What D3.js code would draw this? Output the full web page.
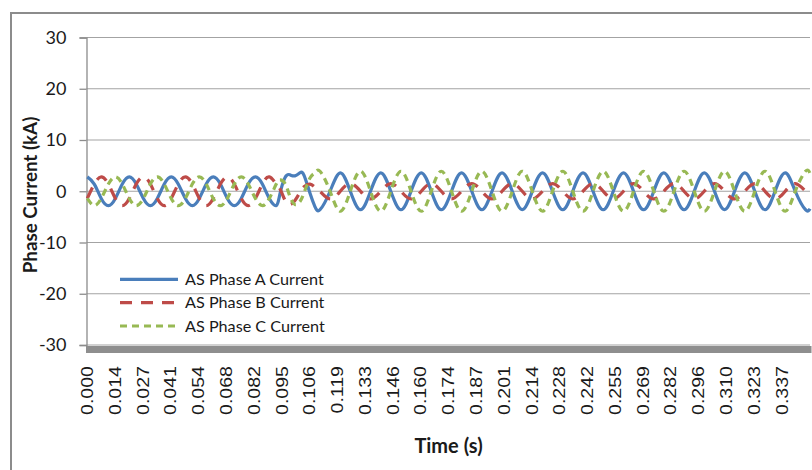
<!DOCTYPE html>
<html><head><meta charset="utf-8">
<script src="https://cdn.jsdelivr.net/npm/d3@7"></script>
<style>body{margin:0;background:#fff;} svg{display:block}</style>
</head><body><svg id="c" width="812" height="470"></svg>
<script>
const tickLabels = ["0.000","0.014","0.027","0.041","0.054","0.068","0.082","0.095","0.106","0.119","0.133","0.146","0.160","0.174","0.187","0.201","0.214","0.228","0.242","0.255","0.269","0.282","0.296","0.310","0.323","0.337"];
const yTicks = [-30,-20,-10,0,10,20,30];
const seriesNames = ["AS Phase A Current","AS Phase B Current","AS Phase C Current"];

const time = [
0.0000,0.0034,0.0068,0.0103,0.0137,0.0171,0.0205,0.0239,0.0274,0.0308,0.0342,0.0376,0.0410,0.0444,0.0479,0.0513,0.0547,0.0581,0.0615,0.0650,0.0684,0.0718,0.0752,0.0786,0.0821,0.0855,0.0889,0.0923,
0.0941,0.0963,0.0982,0.1002,0.1022,0.1038,0.1062,0.1086,
0.1111,0.1160,0.1210,0.1259,0.1309,0.1358,0.1408,0.1457,0.1507,0.1556,0.1606,0.1655,0.1704,0.1754,0.1803,0.1853,0.1902,0.1952,0.2001,0.2051,0.2100,0.2149,0.2199,0.2248,0.2298,0.2347,0.2397,0.2446,0.2496,0.2545,0.2595,0.2644,0.2693,0.2743,0.2792,0.2842,0.2891,0.2941,0.2990,0.3040,0.3089,0.3138,0.3188,0.3237,0.3287,0.3336,0.3386,0.3435,0.3485,0.3507];

const phaseA = [
2.8,1.4,-1.4,-2.8,-1.4,1.4, 2.8,1.4,-1.4,-2.8,-1.4,1.4, 2.8,1.4,-1.4,-2.8,-1.4,1.4, 2.8,1.4,-1.4,-2.8,-1.4,1.4, 2.8,1.4,-1.4,-2.8,
-0.5,2.7,3.2,3.0,3.6,3.1,-0.4,-3.0,
-3.6,0,3.6,0, -3.6,0,3.6,0, -3.6,0,3.6,0, -3.6,0,3.6,0, -3.6,0,3.6,0, -3.6,0,3.6,0,
-3.6,0,3.6,0, -3.6,0,3.6,0, -3.6,0,3.6,0, -3.6,0,3.6,0, -3.6,0,3.6,0, -3.6,0,3.6,0, -3.6,-3.4];

const phaseB = [
-1.4,1.4,2.8,1.4,-1.4,-2.8, -1.4,1.4,2.8,1.4,-1.4,-2.8, -1.4,1.4,2.8,1.4,-1.4,-2.8, -1.4,1.4,2.8,1.4,-1.4,-2.8, -1.4,1.4,2.8,1.4,
0.5,-1.8,-2.6,-1.8,-0.2,0.9,1.4,0.8,
0,-1.5,0,1.5, 0,-1.5,0,1.5, 0,-1.5,0,1.5, 0,-1.5,0,1.5, 0,-1.5,0,1.5, 0,-1.5,0,1.5,
0,-1.5,0,1.5, 0,-1.5,0,1.5, 0,-1.5,0,1.5, 0,-1.5,0,1.5, 0,-1.5,0,1.5, 0,-1.5,0,1.5, 0,-0.7];

const phaseC = [
-1.4,-2.8,-1.4,1.4,2.8,1.4, -1.4,-2.8,-1.4,1.4,2.8,1.4, -1.4,-2.8,-1.4,1.4,2.8,1.4, -1.4,-2.8,-1.4,1.4,2.8,1.4, -1.4,-2.8,-1.4,1.4,
2.2,1.5,-1.0,-2.6,-2.0,-0.3,2.6,3.6,
3.9,0,-3.9,0, 3.9,0,-3.9,0, 3.9,0,-3.9,0, 3.9,0,-3.9,0, 3.9,0,-3.9,0, 3.9,0,-3.9,0,
3.9,0,-3.9,0, 3.9,0,-3.9,0, 3.9,0,-3.9,0, 3.9,0,-3.9,0, 3.9,0,-3.9,0, 3.9,0,-3.9,0, 3.9,3.5];

const colors = ["#4A7EBB","#BE4B48","#98B954"];
const dashes = [null, "12,9", "7,5"];

const svg = d3.select("#c");
const W = 812, H = 470;
const plotL = 86.5, plotT = 37.5, plotB = 345, plotR = 810;

// outer chart border
svg.append("path").attr("d", `M11,${H} V13 H${W}`).attr("fill","none")
  .attr("stroke","#8c8c8c").attr("stroke-width",2);

const x = d3.scaleLinear()
  .domain([0, 0.095, 0.106, 0.3507])
  .range([87.3, 281.8, 309.6, plotR]);
const y = d3.scaleLinear().domain([-30, 30]).range([plotB, plotT]);

// gridlines
svg.append("g").selectAll("line").data(yTicks).join("line")
  .attr("x1", plotL).attr("x2", plotR)
  .attr("y1", d => y(d)).attr("y2", d => y(d))
  .attr("stroke", "#a3a3a3").attr("stroke-width", 1.2);

// y axis
const yAxis = d3.axisLeft(y).tickValues(yTicks).tickSize(7).tickPadding(13).tickFormat(d => String(d));
const gy = svg.append("g").attr("transform", `translate(${plotL},0)`).call(yAxis);
gy.select(".domain").attr("stroke", "#8c8c8c").attr("stroke-width", 1.3);
gy.selectAll(".tick line").attr("stroke", "#8c8c8c").attr("stroke-width", 1.3);
gy.selectAll(".tick text").attr("font-family", "Lato, 'Liberation Sans', sans-serif")
  .attr("font-size", 18).attr("fill", "#1a1a1a");

// x axis bar
svg.append("rect").attr("x", plotL - 0.5).attr("y", plotB + 1).attr("width", W - plotL).attr("height", 7)
  .attr("fill", "#8e8e8e");

// x tick labels
svg.append("g").selectAll("text").data(tickLabels).join("text")
  .attr("transform", (d, i) => `translate(${87.3 + i * 27.78 + 5.8},366) rotate(-90) scale(1.2,1)`)
  .attr("text-anchor", "end")
  .attr("font-family", "'Liberation Sans', Arial, sans-serif")
  .attr("font-size", 16.3).attr("fill", "#1a1a1a")
  .text(d => d);

// lines
const series = [phaseA, phaseB, phaseC];
const line = d3.line().x(d => x(d[0])).y(d => y(d[1])).curve(d3.curveNatural);
series.forEach((vals, si) => {
  const pts = time.map((t, i) => [t, vals[i]]);
  svg.append("path").datum(pts).attr("d", line)
    .attr("fill", "none").attr("stroke", colors[si]).attr("stroke-width", 3.2)
    .attr("stroke-dasharray", dashes[si]).attr("stroke-linejoin", "round");
});

// legend
const legY = [279.3, 302.7, 326];
seriesNames.forEach((n, i) => {
  svg.append("line").attr("x1", 120).attr("x2", 178).attr("y1", legY[i]).attr("y2", legY[i])
    .attr("stroke", colors[i]).attr("stroke-width", 3.2).attr("stroke-dasharray", dashes[i]);
  svg.append("text").attr("x", 185).attr("y", legY[i] + 5.5)
    .attr("font-family", "Lato, sans-serif").attr("font-size", 16.2).attr("fill", "#1a1a1a").text(n);
});

// axis titles
svg.append("text").attr("transform", "translate(37,195) rotate(-90)")
  .attr("text-anchor", "middle").attr("font-family", "Lato, sans-serif").attr("font-weight", "bold")
  .attr("font-size", 18.8).attr("fill", "#1a1a1a").text("Phase Current (kA)");
svg.append("text").attr("x", 448.5).attr("y", 453)
  .attr("text-anchor", "middle").attr("font-family", "Lato, sans-serif").attr("font-weight", "bold")
  .attr("font-size", 20).attr("fill", "#1a1a1a").text("Time (s)");
</script>
</body></html>
